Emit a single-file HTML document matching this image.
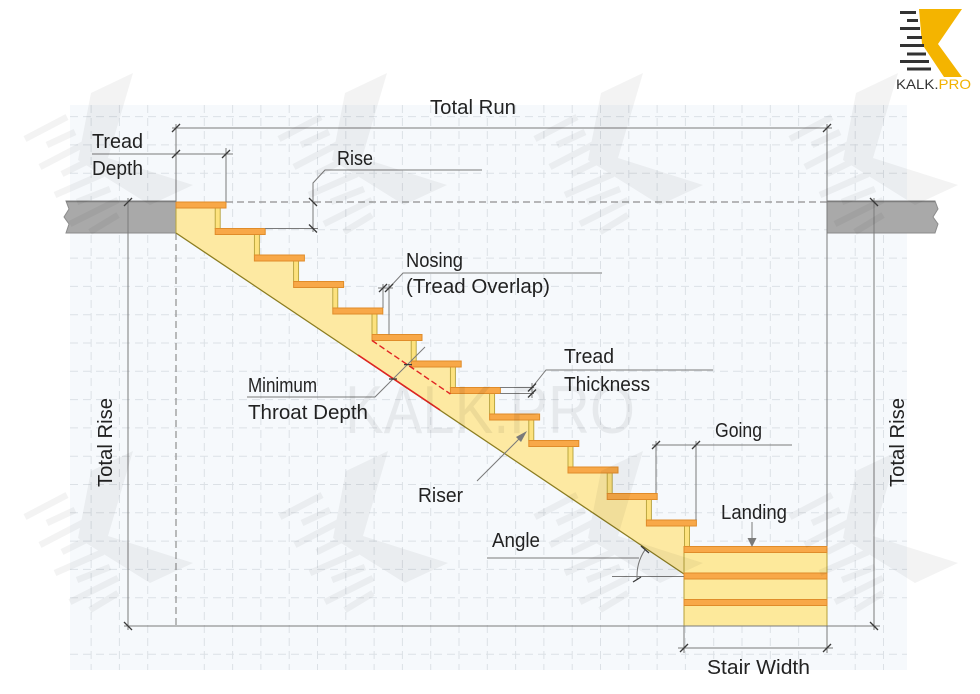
<!DOCTYPE html>
<html><head><meta charset="utf-8"><style>
html,body{margin:0;padding:0;background:#fff;width:980px;height:694px;overflow:hidden}
svg{display:block}
text{font-family:"Liberation Sans",sans-serif;fill:#222}
</style></head><body>
<svg width="980" height="694" viewBox="0 0 980 694" xmlns="http://www.w3.org/2000/svg">
<defs>
<g id="wm">
<polygon points="-102,-92 -60,-112 -85,-27 0,0 -43,20 -115,-25"/>
<g stroke="#000" stroke-width="6.5">
<line x1="-168" y1="-46" x2="-126" y2="-68"/>
<line x1="-146" y1="-40" x2="-118" y2="-53"/>
<line x1="-153" y1="-18" x2="-105" y2="-43"/>
<line x1="-131" y1="-11" x2="-103" y2="-25"/>
<line x1="-138" y1="10" x2="-90" y2="-11"/>
<line x1="-116" y1="17" x2="-83" y2="4"/>
<line x1="-123" y1="39" x2="-75" y2="15"/>
<line x1="-103" y1="47" x2="-75" y2="30"/>
</g>
</g>
</defs>
<rect x="70" y="105" width="837" height="565" fill="#f6f9fc"/>
<g stroke="#dce1e6" stroke-width="1" stroke-dasharray="8 5">
<line x1="91.1" y1="105" x2="91.1" y2="670"/><line x1="119.4" y1="105" x2="119.4" y2="670"/><line x1="147.7" y1="105" x2="147.7" y2="670"/><line x1="204.3" y1="105" x2="204.3" y2="670"/><line x1="232.6" y1="105" x2="232.6" y2="670"/><line x1="260.9" y1="105" x2="260.9" y2="670"/><line x1="289.2" y1="105" x2="289.2" y2="670"/><line x1="317.5" y1="105" x2="317.5" y2="670"/><line x1="345.8" y1="105" x2="345.8" y2="670"/><line x1="374.1" y1="105" x2="374.1" y2="670"/><line x1="402.4" y1="105" x2="402.4" y2="670"/><line x1="430.7" y1="105" x2="430.7" y2="670"/><line x1="459" y1="105" x2="459" y2="670"/><line x1="487.3" y1="105" x2="487.3" y2="670"/><line x1="515.6" y1="105" x2="515.6" y2="670"/><line x1="543.9" y1="105" x2="543.9" y2="670"/><line x1="572.2" y1="105" x2="572.2" y2="670"/><line x1="600.5" y1="105" x2="600.5" y2="670"/><line x1="628.8" y1="105" x2="628.8" y2="670"/><line x1="657.1" y1="105" x2="657.1" y2="670"/><line x1="685.4" y1="105" x2="685.4" y2="670"/><line x1="713.7" y1="105" x2="713.7" y2="670"/><line x1="742" y1="105" x2="742" y2="670"/><line x1="770.3" y1="105" x2="770.3" y2="670"/><line x1="798.6" y1="105" x2="798.6" y2="670"/><line x1="855.2" y1="105" x2="855.2" y2="670"/><line x1="883.5" y1="105" x2="883.5" y2="670"/>
<line x1="70" y1="116.6" x2="907" y2="116.6"/><line x1="70" y1="144.9" x2="907" y2="144.9"/><line x1="70" y1="173.2" x2="907" y2="173.2"/><line x1="70" y1="229.8" x2="907" y2="229.8"/><line x1="70" y1="258.1" x2="907" y2="258.1"/><line x1="70" y1="286.4" x2="907" y2="286.4"/><line x1="70" y1="314.7" x2="907" y2="314.7"/><line x1="70" y1="343" x2="907" y2="343"/><line x1="70" y1="371.3" x2="907" y2="371.3"/><line x1="70" y1="399.6" x2="907" y2="399.6"/><line x1="70" y1="427.9" x2="907" y2="427.9"/><line x1="70" y1="456.2" x2="907" y2="456.2"/><line x1="70" y1="484.5" x2="907" y2="484.5"/><line x1="70" y1="512.8" x2="907" y2="512.8"/><line x1="70" y1="541.1" x2="907" y2="541.1"/><line x1="70" y1="569.4" x2="907" y2="569.4"/><line x1="70" y1="597.7" x2="907" y2="597.7"/><line x1="70" y1="654.3" x2="907" y2="654.3"/>
</g>

<!-- slabs -->
<path d="M66,201 H176 V233 H66 L69,224 L64,217 L69,209 Z" fill="#a9a9a9" stroke="#8c8c8c" stroke-width="1"/>
<line x1="66" y1="201.5" x2="176" y2="201.5" stroke="#7d7d7d" stroke-width="1.5"/>
<path d="M827,201 H935 L938,209 L933,217 L938,224 L935,233 H827 Z" fill="#a9a9a9" stroke="#8c8c8c" stroke-width="1"/>
<line x1="827" y1="201.5" x2="935" y2="201.5" stroke="#7d7d7d" stroke-width="1.5"/>

<!-- dashed reference lines -->
<g stroke="#8f8f8f" stroke-width="1.2" stroke-dasharray="7 4" fill="none">
<line x1="226" y1="202" x2="827" y2="202"/>
<line x1="176" y1="233" x2="176" y2="626"/>
</g>

<!-- stringer -->
<polygon fill="#fde9a2" points="176,205 215.2,205 215.2,231.5 254.4,231.5 254.4,258 293.6,258 293.6,284.5 332.8,284.5 332.8,311 372,311 372,337.5 411.2,337.5 411.2,364 450.4,364 450.4,390.5 489.6,390.5 489.6,417 528.8,417 528.8,443.5 568,443.5 568,470 607.2,470 607.2,496.5 646.4,496.5 646.4,523 685,523 685,574 176,233"/>
<line x1="176" y1="233" x2="684" y2="574" stroke="#8c7d20" stroke-width="1.3"/>
<line x1="176" y1="205" x2="176" y2="233" stroke="#b8a23c" stroke-width="1"/>

<!-- risers -->
<g fill="#fde27e" stroke="#b5a03a" stroke-width="0.9">
<rect x="215.2" y="208" width="5" height="20.5"/><rect x="254.4" y="234.5" width="5" height="20.5"/><rect x="293.6" y="261" width="5" height="20.5"/><rect x="332.8" y="287.5" width="5" height="20.5"/><rect x="372" y="314" width="5" height="20.5"/><rect x="411.2" y="340.5" width="5" height="20.5"/><rect x="450.4" y="367" width="5" height="20.5"/><rect x="489.6" y="393.5" width="5" height="20.5"/><rect x="528.8" y="420" width="5" height="20.5"/><rect x="568" y="446.5" width="5" height="20.5"/><rect x="607.2" y="473" width="5" height="20.5"/><rect x="646.4" y="499.5" width="5" height="20.5"/><rect x="684.5" y="526" width="5" height="20.5"/>
</g>
<!-- treads -->
<g fill="#f8a848" stroke="#e08c2a" stroke-width="1">
<rect x="176" y="202" width="50" height="6"/><rect x="215.2" y="228.5" width="50" height="6"/><rect x="254.4" y="255" width="50" height="6"/><rect x="293.6" y="281.5" width="50" height="6"/><rect x="332.8" y="308" width="50" height="6"/><rect x="372" y="334.5" width="50" height="6"/><rect x="411.2" y="361" width="50" height="6"/><rect x="450.4" y="387.5" width="50" height="6"/><rect x="489.6" y="414" width="50" height="6"/><rect x="528.8" y="440.5" width="50" height="6"/><rect x="568" y="467" width="50" height="6"/><rect x="607.2" y="493.5" width="50" height="6"/><rect x="646.4" y="520" width="50" height="6"/>
</g>
<!-- landing -->
<rect x="684" y="546.5" width="143" height="79.5" fill="#fde99b" stroke="#b5a03a" stroke-width="1"/>
<g fill="#f8a848" stroke="#e08c2a" stroke-width="1">
<rect x="684" y="546.5" width="143" height="6"/><rect x="684" y="573" width="143" height="6"/><rect x="684" y="599.5" width="143" height="6"/>
</g>

<!-- throat depth red -->
<line x1="372" y1="340.5" x2="450.4" y2="394" stroke="#e02323" stroke-width="1.4" stroke-dasharray="6 3"/>
<line x1="358" y1="355" x2="440" y2="410" stroke="#e02323" stroke-width="1.6"/>

<!-- dimension lines -->
<g stroke="#7a7a7a" stroke-width="1" fill="none">
<line x1="172" y1="128" x2="832" y2="128"/>
<line x1="176" y1="124" x2="176" y2="202"/>
<line x1="827" y1="124" x2="827" y2="546"/>
<line x1="92" y1="154" x2="233" y2="154"/>
<line x1="226" y1="148" x2="226" y2="202"/>
<line x1="265" y1="228.5" x2="318" y2="228.5"/>
<polyline points="313,232 313,183 325,170 482,170"/>
<line x1="128" y1="198" x2="128" y2="630"/>
<line x1="124" y1="626" x2="880" y2="626"/>
<line x1="874" y1="198" x2="874" y2="630"/>
<line x1="383" y1="284" x2="383" y2="308"/>
<line x1="389" y1="284" x2="389" y2="334.5"/>
<line x1="378" y1="288" x2="393" y2="288"/>
<polyline points="389,288 403,273 602,273"/>
<line x1="500" y1="387.5" x2="534" y2="387.5"/>
<line x1="500" y1="393.5" x2="534" y2="393.5"/>
<line x1="532" y1="383" x2="532" y2="398"/>
<polyline points="532,387.5 546,370 713,370"/>
<line x1="393" y1="379" x2="425" y2="347"/>
<polyline points="247,397 375,397 393,379"/>
<line x1="656" y1="441" x2="656" y2="493"/>
<line x1="696" y1="441" x2="696" y2="520"/>
<line x1="652" y1="445" x2="792" y2="445"/>
<line x1="487" y1="558" x2="639" y2="558"/>
<line x1="612" y1="576.5" x2="684" y2="576.5"/>
<path d="M645,549.8 A47 47 0 0 0 637.2,580"/>
<line x1="684" y1="626" x2="684" y2="653"/>
<line x1="827" y1="626" x2="827" y2="653"/>
<line x1="678" y1="648" x2="833" y2="648"/>
<line x1="477" y1="481" x2="522" y2="436"/>
<line x1="752" y1="522" x2="752" y2="540"/>
</g>
<polygon points="527,431 516,437 521,442" fill="#7a7a7a"/>
<polygon points="747.5,538 756.5,538 752,547" fill="#7a7a7a"/>

<!-- ticks -->
<g stroke="#3a3a3a" stroke-width="1.3">
<line x1="172" y1="132" x2="180" y2="124"/><line x1="823" y1="132" x2="831" y2="124"/>
<line x1="172" y1="158" x2="180" y2="150"/><line x1="222" y1="158" x2="230" y2="150"/>
<line x1="309" y1="198" x2="317" y2="206"/><line x1="309" y1="224.5" x2="317" y2="232.5"/>
<line x1="124" y1="206" x2="132" y2="198"/><line x1="124" y1="622" x2="132" y2="630"/>
<line x1="870" y1="198" x2="878" y2="206"/><line x1="870" y1="622" x2="878" y2="630"/>
<line x1="379" y1="292" x2="387" y2="284"/><line x1="385" y1="292" x2="393" y2="284"/>
<line x1="528" y1="391.5" x2="536" y2="383.5"/><line x1="528" y1="397.5" x2="536" y2="389.5"/>
<line x1="389" y1="379" x2="397" y2="379"/><line x1="404" y1="364.6" x2="412" y2="364.6"/>
<line x1="652" y1="449" x2="660" y2="441"/><line x1="692" y1="449" x2="700" y2="441"/>
<line x1="641" y1="546" x2="649" y2="553"/><line x1="633" y1="582" x2="641" y2="577"/>
<line x1="680" y1="652" x2="688" y2="644"/><line x1="823" y1="652" x2="831" y2="644"/>
</g>

<!-- labels -->
<g font-size="20">
<text x="430" y="114" textLength="86" lengthAdjust="spacingAndGlyphs">Total Run</text>
<text x="92" y="148" textLength="51" lengthAdjust="spacingAndGlyphs">Tread</text>
<text x="92" y="175" textLength="51" lengthAdjust="spacingAndGlyphs">Depth</text>
<text x="337" y="165" textLength="36" lengthAdjust="spacingAndGlyphs">Rise</text>
<text x="406" y="267" textLength="57" lengthAdjust="spacingAndGlyphs">Nosing</text>
<text x="406" y="293" textLength="144" lengthAdjust="spacingAndGlyphs">(Tread Overlap)</text>
<text x="564" y="363" textLength="50" lengthAdjust="spacingAndGlyphs">Tread</text>
<text x="564" y="391" textLength="86" lengthAdjust="spacingAndGlyphs">Thickness</text>
<text x="248" y="392" textLength="69" lengthAdjust="spacingAndGlyphs">Minimum</text>
<text x="248" y="419" textLength="120" lengthAdjust="spacingAndGlyphs">Throat Depth</text>
<text x="418" y="502" textLength="45" lengthAdjust="spacingAndGlyphs">Riser</text>
<text x="715" y="437" textLength="47" lengthAdjust="spacingAndGlyphs">Going</text>
<text x="721" y="519" textLength="66" lengthAdjust="spacingAndGlyphs">Landing</text>
<text x="492" y="547" textLength="48" lengthAdjust="spacingAndGlyphs">Angle</text>
<text x="707" y="674" textLength="103" lengthAdjust="spacingAndGlyphs">Stair Width</text>
<text transform="translate(112,487) rotate(-90)" x="0" y="0" textLength="89" lengthAdjust="spacingAndGlyphs">Total Rise</text>
<text transform="translate(904,487) rotate(-90)" x="0" y="0" textLength="89" lengthAdjust="spacingAndGlyphs">Total Rise</text>
</g>

<!-- watermarks -->
<g fill="#000" opacity="0.05">
<use href="#wm" x="193" y="185"/><use href="#wm" x="447" y="185"/><use href="#wm" x="703" y="185"/><use href="#wm" x="958" y="185"/>
<use href="#wm" x="193" y="563"/><use href="#wm" x="448" y="563"/><use href="#wm" x="703" y="563"/><use href="#wm" x="958" y="563"/>
</g>
<text x="345" y="433" font-size="68" textLength="290" lengthAdjust="spacingAndGlyphs" style="fill:#000;opacity:0.06">KALK.PRO</text>

<!-- logo -->
<polygon points="919,9 962,9 938,44 962,77 944,77 922,44" fill="#f4b400"/>
<g stroke="#333" stroke-width="3">
<line x1="900" y1="12.5" x2="916" y2="12.5"/>
<line x1="907" y1="20.5" x2="918" y2="20.5"/>
<line x1="900" y1="28.5" x2="920" y2="28.5"/>
<line x1="907" y1="37.5" x2="922" y2="37.5"/>
<line x1="900" y1="45.5" x2="924" y2="45.5"/>
<line x1="907" y1="54" x2="926" y2="54"/>
<line x1="900" y1="61.5" x2="929" y2="61.5"/>
<line x1="907" y1="69" x2="931" y2="69"/>
</g>
<text x="896" y="89" font-size="14" textLength="75" lengthAdjust="spacingAndGlyphs"><tspan style="fill:#333">KALK.</tspan><tspan style="fill:#f2b200">PRO</tspan></text>
</svg>
</body></html>
